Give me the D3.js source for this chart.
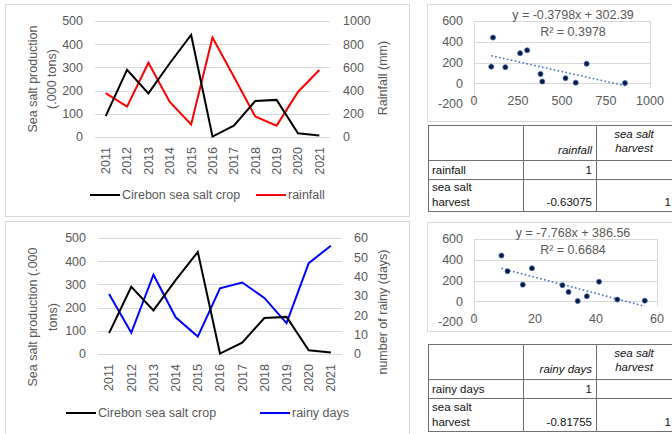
<!DOCTYPE html>
<html>
<head>
<meta charset="utf-8">
<script src="https://cdn.jsdelivr.net/npm/d3@7"></script>
<style>
  body { margin: 0; background: #fff; }
  text { font-family: "Liberation Sans", Arial, sans-serif; }
</style>
</head>
<body>
<div id="chart"></div>
<script>
// values
var years = ["2011", "2012", "2013", "2014", "2015", "2016", "2017", "2018", "2019", "2020", "2021"]
var crop = [90, 290, 188, 318, 440, 2, 49, 155, 160, 16, 6]
var rainfall = [378, 262, 640, 302, 108, 858, 520, 178, 98, 388, 578]
var rainyDays = [31, 11, 41, 19, 9, 34, 37, 29, 16, 47, 56]

var leftTicks = [0, 100, 200, 300, 400, 500]
var rainTicks = [0, 200, 400, 600, 800, 1000]
var daysTicks = [0, 10, 20, 30, 40, 50, 60]
var scatterYTicks = [-200, 0, 200, 400, 600]
var rainXTicks = [0, 250, 500, 750, 1000]
var daysXTicks = [0, 20, 40, 60]

// trendline coefficients as printed on the chart
var trendRain = [-0.3798, 302.39]
var trendDays = [-7.768, 386.56]
var r2Rain = "0.3978"
var r2Days = "0.6684"
var corrRain = "-0.63075"
var corrDays = "-0.81755"

var grey = "#595959"
var gridC = "#d9d9d9"

var svg = d3.select("#chart").append("svg")
  .attr("width", 672)
  .attr("height", 434)

// panel frames
function frame(x, y, w, h) {
  svg.append("rect")
    .attr("x", x + 0.5).attr("y", y + 0.5)
    .attr("width", w).attr("height", h)
    .attr("fill", "#fff")
    .attr("stroke", gridC)
}
frame(5, 4, 404, 212)
frame(5, 221, 404, 220)
frame(427, 4, 260, 117)
frame(427, 222, 260, 109)

function lineChart(o) {
  var g = svg.append("g")
  var x = d3.scalePoint().domain(years).range(o.xr).padding(0.5)
  var y = d3.scaleLinear().domain([0, 500]).range(o.yr)
  var y2 = d3.scaleLinear().domain(o.rightDomain).range(o.yr)

  g.selectAll(".grid").data(leftTicks).join("line")
    .attr("x1", o.xr[0]).attr("x2", o.xr[1])
    .attr("y1", d => Math.round(y(d)) + 0.5).attr("y2", d => Math.round(y(d)) + 0.5)
    .attr("stroke", gridC)

  g.selectAll(".lt").data(leftTicks).join("text")
    .attr("x", o.leftLab).attr("y", d => y(d))
    .attr("dy", "0.35em").attr("text-anchor", "end")
    .attr("font-size", 12.5).attr("fill", grey)
    .text(d => d)

  g.selectAll(".rt").data(o.rightTicks).join("text")
    .attr("x", o.rightLab).attr("y", d => y2(d))
    .attr("dy", "0.35em")
    .attr("font-size", 12.5).attr("fill", grey)
    .text(d => d)

  g.selectAll(".yr").data(years).join("text")
    .attr("transform", d => `translate(${x(d)},${o.yearTop}) rotate(-90)`)
    .attr("dy", "0.35em").attr("text-anchor", "end")
    .attr("font-size", 12.5).attr("fill", grey)
    .text(d => d)

  // axis titles
  o.leftTitle.forEach((t, i) => {
    g.append("text")
      .attr("transform", `translate(${o.leftTitleX[i]},${o.leftTitleY}) rotate(-90)`)
      .attr("dy", "0.35em").attr("text-anchor", "middle")
      .attr("font-size", 12.5).attr("fill", grey)
      .text(t)
  })
  g.append("text")
    .attr("transform", `translate(383,${o.rightTitleY}) rotate(-90)`)
    .attr("dy", "0.35em").attr("text-anchor", "middle")
    .attr("font-size", 12.5).attr("fill", grey)
    .text(o.rightTitle)

  var line = d3.line().x((d, i) => x(years[i]))
  g.append("path").datum(o.rightValues)
    .attr("d", line.y(d => y2(d)))
    .attr("fill", "none").attr("stroke", o.color).attr("stroke-width", 2)
  g.append("path").datum(crop)
    .attr("d", line.y(d => y(d)))
    .attr("fill", "none").attr("stroke", "#000").attr("stroke-width", 2)

  // legend
  var leg = [["Cirebon sea salt crop", "#000", o.leg1], [o.rightName, o.color, o.leg2]]
  leg.forEach(l => {
    g.append("line")
      .attr("x1", l[2]).attr("x2", l[2] + 30)
      .attr("y1", o.legY).attr("y2", o.legY)
      .attr("stroke", l[1]).attr("stroke-width", 2)
    g.append("text")
      .attr("x", l[2] + 32).attr("y", o.legY)
      .attr("dy", "0.35em")
      .attr("font-size", 12.5).attr("fill", grey)
      .text(l[0])
  })
}

lineChart({
  xr: [95, 330], yr: [137, 21],
  rightDomain: [0, 1000], rightTicks: rainTicks, rightValues: rainfall,
  leftLab: 83, rightLab: 343, yearTop: 147,
  leftTitle: ["Sea salt production", "(.000 tons)"], leftTitleX: [33, 52], leftTitleY: 79,
  rightTitle: "Rainfall (mm)", rightTitleY: 78,
  color: "#ff0000", rightName: "rainfall",
  legY: 195, leg1: 90, leg2: 256
})

lineChart({
  xr: [98, 342], yr: [354, 238],
  rightDomain: [0, 60], rightTicks: daysTicks, rightValues: rainyDays,
  leftLab: 86, rightLab: 354, yearTop: 364,
  leftTitle: ["Sea salt production (.000", "tons)"], leftTitleX: [33, 53], leftTitleY: 317,
  rightTitle: "number of rainy (days)", rightTitleY: 312,
  color: "#0000ff", rightName: "rainy days",
  legY: 413, leg1: 66, leg2: 260
})

function scatter(o) {
  var g = svg.append("g")
  var x = d3.scaleLinear().domain(o.xd).range(o.xr)
  var y = d3.scaleLinear().domain([-200, 600]).range(o.yr)

  g.selectAll(".hg").data(scatterYTicks.filter(d => d >= 0)).join("line")
    .attr("x1", o.xr[0]).attr("x2", o.xr[1])
    .attr("y1", d => Math.round(y(d)) + 0.5).attr("y2", d => Math.round(y(d)) + 0.5)
    .attr("stroke", gridC)
  g.append("line")
    .attr("x1", o.xr[0] + 0.5).attr("x2", o.xr[0] + 0.5)
    .attr("y1", y(600)).attr("y2", y(-200))
    .attr("stroke", gridC)
  g.append("line")
    .attr("x1", o.xr[1] + 0.5).attr("x2", o.xr[1] + 0.5)
    .attr("y1", y(600)).attr("y2", y(0) + 5)
    .attr("stroke", gridC)

  g.selectAll(".yl").data(scatterYTicks).join("text")
    .attr("x", 463).attr("y", d => y(d))
    .attr("dy", "0.35em").attr("text-anchor", "end")
    .attr("font-size", 12.5).attr("fill", grey)
    .text(d => d)
  g.selectAll(".xl").data(o.xTicks).join("text")
    .attr("x", d => x(d)).attr("y", y(0) + 17)
    .attr("dy", "0.35em").attr("text-anchor", "middle")
    .attr("font-size", 12.5).attr("fill", grey)
    .text(d => d)

  var ext = d3.extent(o.xs)
  g.append("line")
    .attr("x1", x(ext[0])).attr("x2", x(ext[1]))
    .attr("y1", y(o.trend[0] * ext[0] + o.trend[1]))
    .attr("y2", y(o.trend[0] * ext[1] + o.trend[1]))
    .attr("stroke", "#4472c4").attr("stroke-width", 1.6)
    .attr("stroke-dasharray", "1.6 2.4")

  g.selectAll(".pt").data(o.xs).join("circle")
    .attr("cx", d => x(d)).attr("cy", (d, i) => y(crop[i]))
    .attr("r", 2.5)
    .attr("fill", "#0b1a3c").attr("stroke", "#3a64b0").attr("stroke-width", 0.8)

  g.append("text")
    .attr("x", 573).attr("y", o.eqY)
    .attr("dy", "0.35em").attr("text-anchor", "middle")
    .attr("font-size", 12.5).attr("fill", grey)
    .text(`y = ${o.trend[0]}x + ${o.trend[1]}`)
  g.append("text")
    .attr("x", 573).attr("y", o.eqY + 17)
    .attr("dy", "0.35em").attr("text-anchor", "middle")
    .attr("font-size", 12.5).attr("fill", grey)
    .text(`R² = ${o.r2}`)
}

scatter({ xd: [0, 1000], xr: [474, 650], yr: [104, 21], xTicks: rainXTicks,
  xs: rainfall, trend: trendRain, r2: r2Rain, eqY: 15 })
scatter({ xd: [0, 60], xr: [474, 657], yr: [322, 239], xTicks: daysXTicks,
  xs: rainyDays, trend: trendDays, r2: r2Days, eqY: 233 })

function table(o) {
  var g = svg.append("g")
  var cols = [428, 523, 596, 674]
  var rows = o.rows
  rows.forEach(r => {
    g.append("line").attr("x1", cols[0]).attr("x2", cols[3])
      .attr("y1", r + 0.5).attr("y2", r + 0.5)
      .attr("stroke", "#6f6f6f").attr("stroke-width", 1)
  })
  cols.forEach(c => {
    g.append("line").attr("x1", c + 0.5).attr("x2", c + 0.5)
      .attr("y1", rows[0]).attr("y2", rows[3])
      .attr("stroke", "#6f6f6f").attr("stroke-width", 1)
  })
  var t = (x, y, s, anchor, it) => g.append("text")
    .attr("x", x).attr("y", y).attr("text-anchor", anchor || "start")
    .attr("font-size", 11.5).attr("fill", "#111")
    .attr("font-style", it ? "italic" : "normal")
    .text(s)
  // header
  t(cols[2] - 4, rows[1] - 6, o.name, "end", true)
  t((cols[2] + cols[3]) / 2 - 1, rows[1] - 22, "sea salt", "middle", true)
  t((cols[2] + cols[3]) / 2 - 1, rows[1] - 8, "harvest", "middle", true)
  // row 1
  t(cols[0] + 4, rows[2] - 5, o.name)
  t(cols[2] - 4, rows[2] - 5, "1", "end")
  // row 2
  t(cols[0] + 4, rows[3] - 20, "sea salt")
  t(cols[0] + 4, rows[3] - 5, "harvest")
  t(cols[2] - 4, rows[3] - 5, o.corr, "end")
  t(cols[3] - 3, rows[3] - 5, "1", "end")
}

table({ name: "rainfall", corr: corrRain, rows: [125, 160, 179, 211] })
table({ name: "rainy days", corr: corrDays, rows: [344, 379, 398, 431] })
</script>
</body>
</html>
